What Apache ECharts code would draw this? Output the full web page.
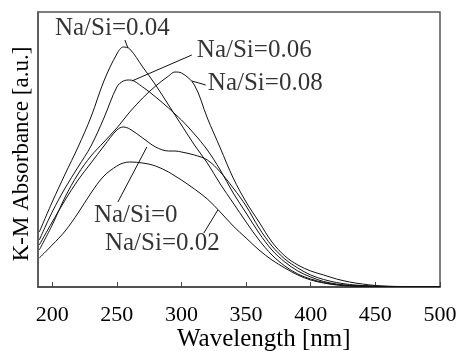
<!DOCTYPE html>
<html><head><meta charset="utf-8">
<script src="https://cdn.jsdelivr.net/npm/echarts@6/dist/echarts.min.js"></script>
<style>html,body{margin:0;padding:0;background:#fff}#c{width:461px;height:351px}</style>
</head><body><div id="c"></div>
<script>
var wavelength = [190,200,210,220,230,240,250,255,260,270,280,290,295,300,310,320,330,340,350,360,370,380,390,400,410,420,430,440,450,460,470,480,490,500];
var seriesNames = ['Na/Si=0','Na/Si=0.02','Na/Si=0.04','Na/Si=0.06','Na/Si=0.08'];
var ns0   = [0.42,0.65,0.87,1.07,1.24,1.41,1.57,1.60,1.58,1.49,1.40,1.36,1.36,1.35,1.32,1.27,1.15,0.99,0.81,0.59,0.41,0.28,0.19,0.12,0.075,0.045,0.025,0.015,0.01,0.005,0.005,0.005,0.005,0.005];
var ns002 = [0.29,0.42,0.56,0.74,0.94,1.11,1.21,1.24,1.25,1.24,1.21,1.15,1.11,1.07,0.98,0.88,0.75,0.61,0.49,0.37,0.27,0.19,0.12,0.07,0.04,0.02,0.01,0.005,0.005,0.005,0.005,0.005,0.005,0.005];
var ns004 = [0.55,0.85,1.13,1.40,1.70,2.06,2.33,2.40,2.38,2.20,2.02,1.82,1.72,1.62,1.42,1.24,1.03,0.84,0.65,0.47,0.32,0.21,0.13,0.08,0.045,0.025,0.015,0.01,0.005,0.005,0.005,0.005,0.005,0.005];
var ns006 = [0.47,0.75,0.99,1.20,1.41,1.69,2.00,2.06,2.07,2.00,1.90,1.79,1.73,1.67,1.53,1.37,1.17,0.94,0.74,0.54,0.37,0.25,0.16,0.10,0.055,0.03,0.015,0.01,0.005,0.005,0.005,0.005,0.005,0.005];
var ns008 = [0.37,0.62,0.90,1.13,1.31,1.45,1.59,1.67,1.75,1.89,2.01,2.11,2.15,2.14,2.02,1.69,1.39,1.09,0.85,0.65,0.45,0.31,0.22,0.16,0.12,0.08,0.05,0.03,0.015,0.008,0.005,0.005,0.005,0.005];
var xTicks = [200,250,300,350,400,450,500];
// label anchors (wavelength, value) and leader lines
var labelX = [232.3, 240.8, 202.1, 311.9, 320.4];
var labelY = [0.72, 0.44, 2.59, 2.37, 2.04];
var leaderFrom = [[250.8,0.85],[317.3,0.54],[256.2,2.47],[308,2.32],[308,2.06]];
var leaderTo   = [[273.2,1.40],[328.1,0.77],[258.6,2.39],[261.6,2.06],[318.8,2.02]];

var values = [ns0, ns002, ns004, ns006, ns008];
var font = 'Liberation Serif';
var chart = echarts.init(document.getElementById('c'));
var series = values.map(function(v, i){
  return {
    name: seriesNames[i], type: 'line', symbol: 'none', smooth: 0.35,
    lineStyle: {color: '#111', width: 1}, silent: true,
    data: wavelength.map(function(w, j){ return [w, v[j]]; })
  };
});
series.push({
  type: 'scatter', symbolSize: 0, silent: true,
  data: labelX.map(function(x, i){ return [x, labelY[i], seriesNames[i]]; }),
  label: {show: true, position: 'right', distance: 0, color: '#000', fontFamily: font, fontSize: 25,
          formatter: function(p){ return p.data[2]; }},
  markLine: {silent: true, symbol: ['none','none'], label: {show: false},
    lineStyle: {color: '#111', width: 1, type: 'solid'},
    data: leaderFrom.map(function(f, i){ return [{coord: f}, {coord: leaderTo[i]}]; })}
});
chart.setOption({
  animation: false,
  grid: {left: 38, top: 12, right: 21, bottom: 64, show: true, borderColor: '#555', borderWidth: 1.5},
  xAxis: {type: 'value', min: 189, max: 500,
    axisLine: {show: true, lineStyle: {color: '#444', width: 1.5}},
    axisTick: {show: true, inside: true, length: 5, customValues: xTicks, lineStyle: {color: '#444'}},
    axisLabel: {customValues: xTicks, margin: 17, color: '#000', fontFamily: font, fontSize: 22},
    splitLine: {show: false}},
  yAxis: {type: 'value', min: 0, max: 2.75,
    axisLine: {show: true, lineStyle: {color: '#555', width: 1.5}},
    axisTick: {show: false}, axisLabel: {show: false}, splitLine: {show: false}},
  graphic: [
    {type: 'text', left: 177, top: 327, style: {text: 'Wavelength [nm]', fontFamily: font, fontSize: 25, fill: '#000'}},
    {type: 'text', x: 22, y: 154, rotation: Math.PI/2,
     style: {text: 'K-M Absorbance [a.u.]', fontFamily: font, fontSize: 23, fill: '#000', align: 'center', verticalAlign: 'middle'}}
  ],
  series: series
});
</script></body></html>
